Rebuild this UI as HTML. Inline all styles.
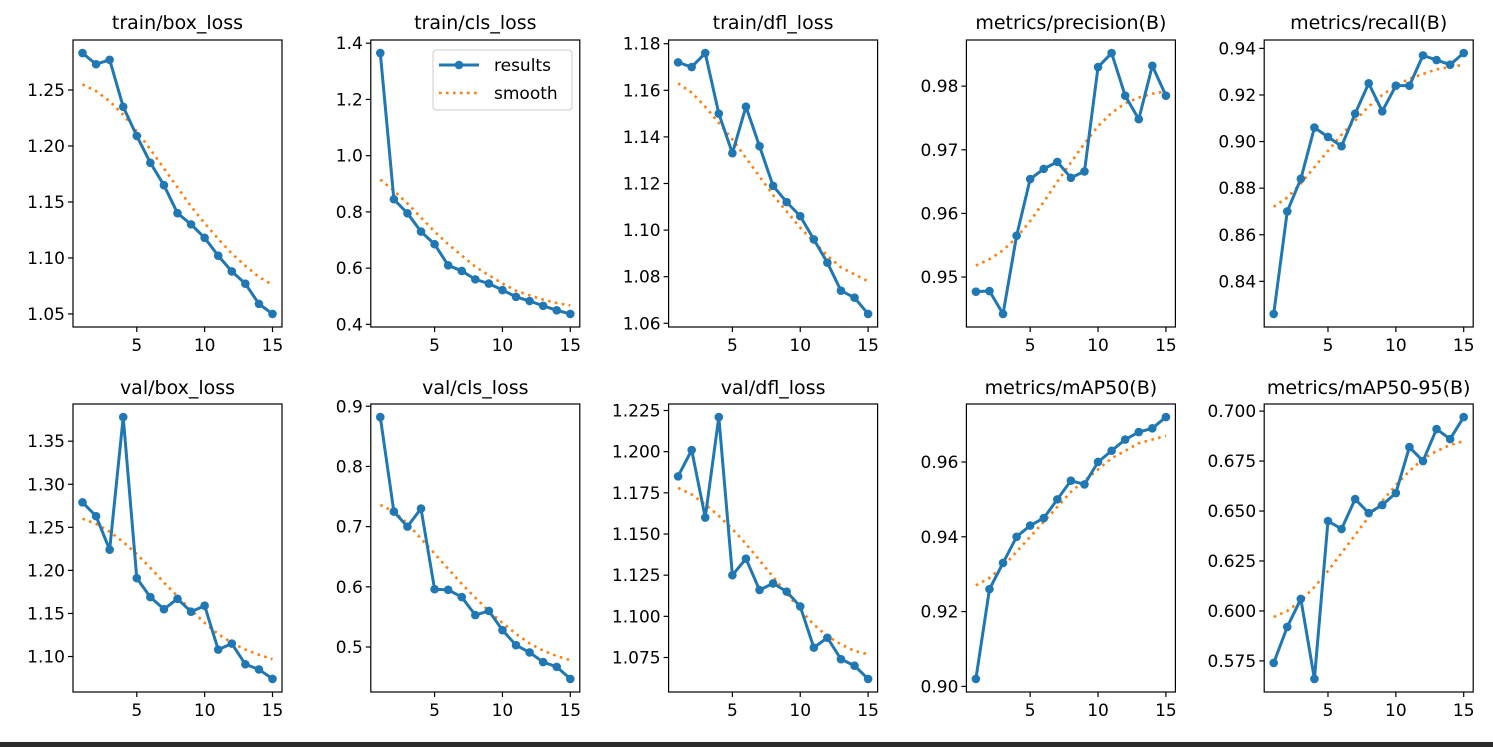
<!DOCTYPE html>
<html><head><meta charset="utf-8"><style>
html,body{margin:0;padding:0;background:#fff;width:1493px;height:747px;overflow:hidden}
svg{display:block}
text{font-family:"DejaVu Sans","Liberation Sans",sans-serif;fill:#000}
</style></head><body>
<svg id="fig" width="1493" height="747" viewBox="0 0 1493 747"></svg>
<script>
const epochs=[1,2,3,4,5,6,7,8,9,10,11,12,13,14,15];
const xTicks=[5,10,15];
const titles=["train/box_loss","train/cls_loss","train/dfl_loss","metrics/precision(B)","metrics/recall(B)","val/box_loss","val/cls_loss","val/dfl_loss","metrics/mAP50(B)","metrics/mAP50-95(B)"];
const trainBox=[1.283,1.273,1.277,1.235,1.209,1.185,1.165,1.140,1.130,1.118,1.102,1.088,1.077,1.059,1.050];
const trainBoxSmooth=[1.255,1.249,1.240,1.228,1.213,1.197,1.180,1.163,1.146,1.131,1.117,1.104,1.093,1.083,1.076];
const trainCls=[1.365,0.845,0.795,0.730,0.685,0.610,0.590,0.560,0.545,0.522,0.498,0.483,0.466,0.450,0.437];
const trainClsSmooth=[0.915,0.875,0.830,0.780,0.730,0.685,0.645,0.605,0.575,0.545,0.520,0.503,0.488,0.476,0.467];
const trainDfl=[1.172,1.170,1.176,1.150,1.133,1.153,1.136,1.119,1.112,1.106,1.096,1.086,1.074,1.071,1.064];
const trainDflSmooth=[1.163,1.159,1.153,1.146,1.139,1.131,1.123,1.115,1.108,1.101,1.095,1.089,1.084,1.081,1.078];
const precision=[0.9477,0.9478,0.9442,0.9565,0.9654,0.9670,0.9681,0.9656,0.9666,0.9830,0.9852,0.9785,0.9748,0.9832,0.9785];
const precisionSmooth=[0.9518,0.9528,0.9542,0.9562,0.9588,0.9618,0.9650,0.9680,0.9710,0.9737,0.9758,0.9773,0.9782,0.9788,0.9792];
const recall=[0.826,0.870,0.884,0.906,0.902,0.898,0.912,0.925,0.913,0.924,0.924,0.937,0.935,0.933,0.938];
const recallSmooth=[0.872,0.876,0.882,0.889,0.896,0.903,0.909,0.915,0.920,0.924,0.927,0.929,0.931,0.932,0.933];
const valBox=[1.279,1.263,1.224,1.378,1.191,1.169,1.155,1.167,1.152,1.159,1.108,1.115,1.091,1.085,1.074];
const valBoxSmooth=[1.260,1.254,1.245,1.233,1.219,1.203,1.186,1.170,1.154,1.139,1.126,1.116,1.108,1.102,1.097];
const valCls=[0.882,0.725,0.700,0.730,0.596,0.595,0.583,0.553,0.560,0.528,0.503,0.491,0.475,0.467,0.447];
const valClsSmooth=[0.736,0.725,0.705,0.680,0.655,0.630,0.605,0.582,0.560,0.540,0.522,0.506,0.494,0.485,0.478];
const valDfl=[1.185,1.201,1.160,1.221,1.125,1.135,1.116,1.120,1.115,1.106,1.081,1.087,1.074,1.070,1.062];
const valDflSmooth=[1.178,1.174,1.168,1.161,1.153,1.144,1.134,1.124,1.114,1.104,1.095,1.088,1.083,1.079,1.077];
const map50=[0.902,0.926,0.933,0.940,0.943,0.945,0.950,0.955,0.954,0.960,0.963,0.966,0.968,0.969,0.972];
const map50Smooth=[0.927,0.929,0.932,0.936,0.940,0.944,0.948,0.952,0.955,0.958,0.961,0.963,0.965,0.966,0.967];
const map5095=[0.574,0.592,0.606,0.566,0.645,0.641,0.656,0.649,0.653,0.659,0.682,0.675,0.691,0.686,0.697];
const map5095Smooth=[0.597,0.600,0.605,0.612,0.620,0.629,0.638,0.647,0.655,0.663,0.670,0.676,0.680,0.683,0.685];
const yTicks1=["1.05","1.10","1.15","1.20","1.25"];
const yTicks2=["0.4","0.6","0.8","1.0","1.2","1.4"];
const yTicks3=["1.06","1.08","1.10","1.12","1.14","1.16","1.18"];
const yTicks4=["0.95","0.96","0.97","0.98"];
const yTicks5=["0.84","0.86","0.88","0.90","0.92","0.94"];
const yTicks6=["1.10","1.15","1.20","1.25","1.30","1.35"];
const yTicks7=["0.5","0.6","0.7","0.8","0.9"];
const yTicks8=["1.075","1.100","1.125","1.150","1.175","1.200","1.225"];
const yTicks9=["0.90","0.92","0.94","0.96"];
const yTicks10=["0.575","0.600","0.625","0.650","0.675","0.700"];

const results=[trainBox,trainCls,trainDfl,precision,recall,valBox,valCls,valDfl,map50,map5095];
const smooths=[trainBoxSmooth,trainClsSmooth,trainDflSmooth,precisionSmooth,recallSmooth,valBoxSmooth,valClsSmooth,valDflSmooth,map50Smooth,map5095Smooth];
const yticks=[yTicks1,yTicks2,yTicks3,yTicks4,yTicks5,yTicks6,yTicks7,yTicks8,yTicks9,yTicks10];

const NS="http://www.w3.org/2000/svg";
const svg=document.getElementById('fig');
function mk(tag,attrs,parent){const e=document.createElementNS(NS,tag);for(const k in attrs)e.setAttribute(k,attrs[k]);(parent||svg).appendChild(e);return e;}

const W=209;
const rowsTop=[40,404],rowsBot=[327,692],titleY=[29,394];
for(let i=0;i<10;i++){
  const r=Math.floor(i/5),c=i%5;
  const L=73+c*297.8,R=L+W,T=rowsTop[r],B=rowsBot[r];
  const g=mk('g',{});
  
  
  const res=results[i],sm=smooths[i];
  const all=res.concat(sm);
  let mn=Math.min(...all),mx=Math.max(...all),rg=mx-mn;
  const y0=mn-0.05*rg,y1=mx+0.05*rg;
  const xmin=1-0.7,xmax=15+0.7;
  const X=v=>L+(v-xmin)/(xmax-xmin)*W;
  const Y=v=>B-(v-y0)/(y1-y0)*(B-T);
  const t=mk('text',{x:(L+R)/2,y:titleY[r],'text-anchor':'middle','font-size':19},g);
  t.textContent=titles[i];
  
  
  // smooth line
  const sp=mk('polyline',{points:epochs.map((e,k)=>X(e)+','+Y(sm[k])).join(' '),fill:'none',stroke:'#ff7f0e','stroke-width':2.6,'stroke-dasharray':'2.6,4.4'},g);
  
  
  const rp=mk('polyline',{points:epochs.map((e,k)=>X(e)+','+Y(res[k])).join(' '),fill:'none',stroke:'#1f77b4','stroke-width':3,'stroke-linejoin':'round'},g);
  
  
  epochs.forEach((e,k)=>{
    const p=mk('circle',{cx:X(e),cy:Y(res[k]),r:4.3,fill:'#1f77b4'},g);
    
    
  });
  const fr=mk('rect',{x:L,y:T,width:W,height:B-T,fill:'none',stroke:'#000','stroke-width':1.2},g);
  
  
  xTicks.forEach(v=>{
    mk('line',{x1:X(v),x2:X(v),y1:B,y2:B+5,stroke:'#000','stroke-width':1.2},g);
    const tl=mk('text',{x:X(v),y:B+24,'text-anchor':'middle','font-size':17},g);
    tl.textContent=v;
    
    
  });
  yticks[i].forEach(s=>{
    const v=parseFloat(s);
    mk('line',{x1:L-5,x2:L,y1:Y(v),y2:Y(v),stroke:'#000','stroke-width':1.2},g);
    const tl=mk('text',{x:L-8,y:Y(v)+6,'text-anchor':'end','font-size':17},g);
    tl.textContent=s;
    
    
  });
  if(i===1){
    const lg=mk('g',{},g);
    
    
    mk('rect',{x:433,y:50,width:139,height:60,rx:3,fill:'#fff','fill-opacity':0.8,stroke:'#ccc','stroke-width':1},lg);
    mk('line',{x1:439,x2:479,y1:65,y2:65,stroke:'#1f77b4','stroke-width':3},lg);
    mk('circle',{cx:459,cy:65,r:4.3,fill:'#1f77b4'},lg);
    mk('line',{x1:439,x2:479,y1:93,y2:93,stroke:'#ff7f0e','stroke-width':2.6,'stroke-dasharray':'2.6,4.4'},lg);
    const a=mk('text',{x:494,y:71,'font-size':17},lg);a.textContent='results';
    
    
    const b=mk('text',{x:494,y:99,'font-size':17},lg);b.textContent='smooth';
    
    
  }
}
const bar=mk('rect',{x:0,y:742,width:1493,height:5,fill:'#2b2b2b'});


</script>
</body></html>
